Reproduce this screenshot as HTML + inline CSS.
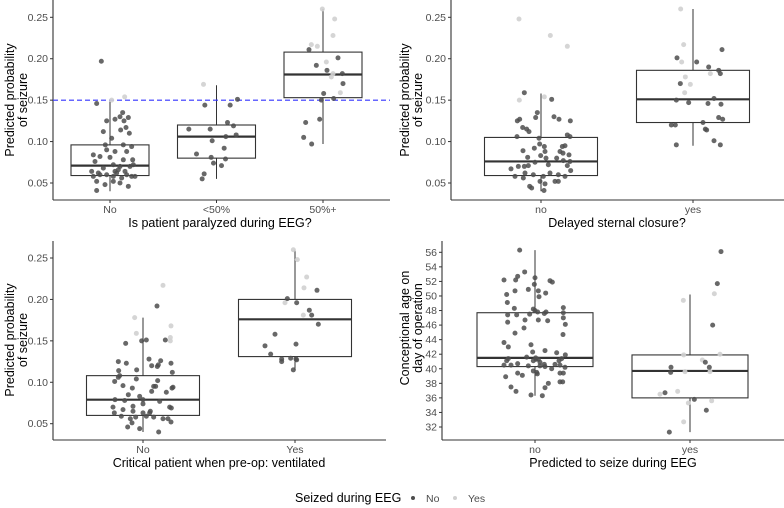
<!DOCTYPE html>
<html><head><meta charset="utf-8">
<style>
html,body{margin:0;padding:0;background:#fff;}
svg{display:block;font-family:"Liberation Sans",Arial,sans-serif;}
.tick{font-size:10.5px;fill:#4d4d4d;}
.title{font-size:12.5px;fill:#000;}
</style></head>
<body>
<svg id="fig" width="784" height="508" viewBox="0 0 784 508"></svg>
<script>
// ---------- DATA ----------
// panel 1: paralyzed during EEG
const p1Categories = ["No", "<50%", "50%+"];
const p1Boxes = [[0.040,0.059,0.071,0.096,0.150],[0.055,0.080,0.106,0.120,0.168],[0.097,0.153,0.181,0.208,0.260]];
const p1Points = [
[[-26,.197,0],[-40,.146,0],[44,.154,1],[5,.150,1],[-10,.125,0],[15,.127,0],[38,.135,0],[30,.130,0],[55,.129,0],[42,.125,0],[-20,.112,0],[48,.117,0],[32,.114,0],[5,.104,0],[58,.110,0],[-14,.096,0],[15,.088,0],[-10,.090,0],[40,.096,0],[65,.094,0],[50,.088,0],[-50,.084,0],[-30,.082,0],[-45,.076,0],[10,.072,0],[68,.078,0],[30,.070,0],[-20,.068,0],[60,.070,0],[70,.072,0],[-55,.064,0],[-35,.062,0],[15,.064,0],[25,.066,0],[45,.064,0],[-50,.058,0],[-30,.060,0],[-10,.060,0],[20,.062,0],[50,.060,0],[65,.058,0],[75,.058,0],[-40,.052,0],[-15,.048,0],[10,.052,0],[30,.050,0],[55,.046,0],[-40,.041,0],[10,.058,0],[35,.056,0],[40,.078,0],[0,.081,0]],
[[-39,.169,1],[-35,.144,0],[41,.144,0],[63,.151,0],[-83,.115,0],[-19,.115,0],[33,.123,0],[51,.119,0],[-13,.101,0],[28,.106,0],[59,.108,0],[23,.092,0],[-60,.085,0],[-16,.081,0],[27,.079,0],[-9,.074,0],[15,.071,0],[-37,.061,0],[-43,.055,0]],
[[-2,.260,1],[35,.248,1],[30,.228,1],[-35,.217,1],[-17,.215,1],[10,.196,1],[30,.182,1],[25,.178,1],[52,.159,1],[-42,.211,0],[45,.201,0],[-20,.192,0],[12,.186,0],[58,.182,0],[60,.170,0],[2,.158,0],[-5,.150,0],[32,.152,0],[-10,.127,0],[-52,.123,0],[-58,.105,0],[-34,.097,0]]
];
// panel 2: delayed sternal closure
const p2Categories = ["no", "yes"];
const p2Boxes = [[0.040,0.059,0.076,0.105,0.158],[0.095,0.123,0.151,0.186,0.260]];
const p2Points = [
[[-66,.248,1],[28,.228,1],[79,.215,1],[-65,.150,1],[10,.154,1],[-50,.159,0],[32,.151,0],[-11,.135,0],[-16,.129,0],[39,.130,0],[54,.127,0],[-71,.125,0],[-64,.127,0],[88,.125,0],[-55,.117,0],[-43,.115,0],[-36,.112,0],[-72,.106,0],[-6,.104,0],[79,.108,0],[87,.106,0],[-54,.089,0],[-20,.092,0],[-4,.097,0],[10,.094,0],[64,.094,0],[72,.095,0],[-40,.081,0],[-1,.083,0],[12,.088,0],[57,.088,0],[66,.086,0],[84,.084,0],[-18,.075,0],[15,.080,0],[47,.080,0],[67,.077,0],[87,.076,0],[-90,.067,0],[-68,.070,0],[-50,.070,0],[-38,.071,0],[22,.072,0],[79,.071,0],[-78,.058,0],[-53,.056,0],[-48,.062,0],[-23,.060,0],[7,.058,0],[27,.062,0],[52,.060,0],[72,.058,0],[89,.065,0],[-3,.052,0],[12,.049,0],[-34,.046,0],[-28,.044,0],[9,.041,0],[42,.052,0],[52,.052,0]],
[[-37,.260,1],[-28,.217,1],[-34,.196,1],[-23,.178,1],[-8,.169,1],[-25,.159,1],[52,.182,1],[-48,.201,0],[11,.196,0],[47,.190,0],[87,.211,0],[77,.186,0],[82,.182,0],[-38,.170,0],[-50,.150,0],[-13,.147,0],[45,.146,0],[63,.152,0],[84,.145,0],[77,.129,0],[89,.127,0],[30,.123,0],[-53,.120,0],[-65,.120,0],[37,.115,0],[41,.114,0],[63,.101,0],[-50,.096,0],[82,.096,0]]
];
// panel 3: ventilated
const p3Categories = ["No", "Yes"];
const p3Boxes = [[0.040,0.060,0.079,0.108,0.178],[0.115,0.131,0.176,0.200,0.260]];
const p3Points = [
[[60,.217,1],[-25,.178,1],[-20,.159,1],[84,.168,1],[82,.154,1],[82,.150,1],[42,.192,0],[-52,.147,0],[-4,.150,0],[10,.151,0],[67,.151,0],[-74,.125,0],[-50,.123,0],[18,.128,0],[53,.126,0],[26,.120,0],[84,.123,0],[46,.121,0],[-73,.114,0],[88,.112,0],[-19,.115,0],[43,.119,0],[-74,.106,0],[-70,.108,0],[-20,.104,0],[44,.102,0],[-85,.101,0],[-60,.096,0],[-32,.093,0],[32,.095,0],[38,.095,0],[87,.093,0],[90,.094,0],[-44,.085,0],[-10,.083,0],[26,.089,0],[70,.088,0],[-84,.079,0],[-55,.078,0],[0,.079,0],[50,.077,0],[-90,.070,0],[-30,.071,0],[0,.074,0],[80,.070,0],[85,.069,0],[-86,.063,0],[-60,.067,0],[-30,.065,0],[0,.063,0],[22,.065,0],[-65,.059,0],[-38,.056,0],[-22,.058,0],[10,.059,0],[32,.058,0],[60,.056,0],[75,.056,0],[84,.052,0],[-33,.051,0],[-46,.046,0],[-10,.044,0],[47,.040,0],[20,.063,0]],
[[-5,.260,1],[7,.248,1],[35,.227,1],[27,.214,1],[-30,.196,1],[25,.181,1],[66,.211,0],[-23,.201,0],[5,.196,0],[43,.187,0],[50,.181,0],[70,.170,0],[-60,.158,0],[-90,.144,0],[3,.146,0],[-73,.134,0],[-40,.128,0],[-13,.129,0],[3,.128,0],[5,.127,0],[-40,.125,0],[-5,.115,0]]
];
// panel 4: conceptional age
const p4Categories = ["no", "yes"];
const p4Boxes = [[36.3,40.3,41.5,47.7,56.3],[31.3,36.0,39.7,41.9,50.2]];
const p4Points = [
[[-46,56.3,0],[-31,53.3,0],[-52,52.7,0],[0,52.5,0],[-93,52.2,0],[-58,52.2,0],[45,52.1,0],[52,51.9,0],[-2,51.6,0],[-60,50.7,0],[-20,50.9,0],[10,50.7,0],[32,50.4,0],[-85,50.2,0],[12,49.9,0],[-83,49.1,0],[-62,48.3,0],[85,48.4,0],[-5,48.2,0],[0,48.0,0],[8,47.8,0],[-82,47.4,0],[-55,47.4,0],[33,47.8,0],[28,47.6,0],[-16,47.5,0],[85,47.7,0],[-30,46.7,0],[10,46.7,0],[38,46.6,0],[85,47.0,0],[-82,46.4,0],[91,46.1,0],[-33,45.6,0],[-60,44.9,0],[84,44.7,0],[-93,43.6,0],[-80,43.0,0],[-12,43.3,0],[30,42.5,0],[-7,42.3,0],[65,42.2,0],[91,41.9,0],[-80,41.4,0],[-85,41.1,0],[-25,41.6,0],[2,41.5,0],[10,41.3,0],[80,41.4,0],[72,41.1,0],[-5,41.1,0],[3,41.3,0],[15,40.9,0],[60,40.6,0],[-93,40.5,0],[-72,40.5,0],[-52,40.7,0],[30,40.3,0],[28,40.6,0],[-20,40.4,0],[15,40.4,0],[75,40.5,0],[90,40.2,0],[50,40.0,0],[-5,39.7,0],[5,39.5,0],[7,39.3,0],[-52,39.4,0],[-38,39.1,0],[75,39.4,0],[85,39.4,0],[-88,38.9,0],[40,38.0,0],[75,38.2,0],[83,38.2,0],[-72,37.5,0],[30,37.4,0],[-57,36.9,0],[-12,36.4,0],[22,36.3,0]],
[[-20,49.4,1],[73,50.3,1],[-19,41.9,1],[37,41.2,1],[90,42.0,1],[-15,39.6,1],[60,39.6,1],[-37,36.9,1],[-90,36.5,1],[65,35.6,1],[-5,35.3,1],[-19,32.7,1],[93,56.1,0],[82,51.7,0],[68,46.0,0],[-57,40.2,0],[-58,39.5,0],[46,40.9,0],[58,40.2,0],[-75,36.7,0],[13,35.8,0],[49,34.3,0],[-62,31.3,0]]
];
const p123Ticks = [0.05, 0.10, 0.15, 0.20, 0.25];
const p123TickLabels = ["0.05", "0.10", "0.15", "0.20", "0.25"];
const p4Ticks = [32,34,36,38,40,42,44,46,48,50,52,54,56];
const threshold = 0.15;
const legendLabels = ["No", "Yes"];

// ---------- DRAWING ----------
const NS = "http://www.w3.org/2000/svg";
const svg = document.getElementById("fig");
function mk(tag, attrs, parent) {
  const e = document.createElementNS(NS, tag);
  for (const k in attrs) e.setAttribute(k, attrs[k]);
  (parent || svg).appendChild(e);
  return e;
}
const DARK = "#4d4d4d", LIGHT = "#d0d0d0";

function panel(cfg) {
  const g = mk("g", {});
  
  
  const y = v => cfg.yTop + (cfg.v0 - v) * (cfg.yBot - cfg.yTop) / (cfg.v0 - cfg.v1);
  const x = i => cfg.cx0 + i * cfg.step;
  // axes
  const ax = mk("line", {x1: cfg.axX, y1: cfg.top, x2: cfg.axX, y2: cfg.axY, stroke: "#333", "stroke-width": 1.1}, g);
  
  
  const axx = mk("line", {x1: cfg.axX, y1: cfg.axY, x2: cfg.right, y2: cfg.axY, stroke: "#333", "stroke-width": 1.1}, g);
  
  
  cfg.ticks.forEach((t, k) => {
    const yy = y(t);
    mk("line", {x1: cfg.axX - 3, y1: yy, x2: cfg.axX, y2: yy, stroke: "#333", "stroke-width": 1}, g);
    const tl = mk("text", {x: cfg.axX - 5, y: yy + 3.5, "text-anchor": "end", class: "tick"}, g);
    tl.textContent = cfg.tickLabels[k];
    
    
  });
  cfg.cats.forEach((c, i) => {
    mk("line", {x1: x(i), y1: cfg.axY, x2: x(i), y2: cfg.axY + 3, stroke: "#333", "stroke-width": 1}, g);
    const tl = mk("text", {x: x(i), y: cfg.axY + 13, "text-anchor": "middle", class: "tick"}, g);
    tl.textContent = c;
    
    
  });
  // boxes
  cfg.boxes.forEach((b, i) => {
    const cx = x(i), hw = cfg.boxW / 2;
    const bg = mk("g", {}, g);
    
    
    mk("line", {x1: cx, y1: y(b[4]), x2: cx, y2: y(b[3]), stroke: "#333", "stroke-width": 1}, bg);
    mk("line", {x1: cx, y1: y(b[1]), x2: cx, y2: y(b[0]), stroke: "#333", "stroke-width": 1}, bg);
    mk("rect", {x: cx - hw, y: y(b[3]), width: cfg.boxW, height: y(b[1]) - y(b[3]), fill: "none", stroke: "#333", "stroke-width": 1.1}, bg);
    mk("line", {x1: cx - hw, y1: y(b[2]), x2: cx + hw, y2: y(b[2]), stroke: "#333", "stroke-width": 2.2}, bg);
  });
  if (cfg.threshold !== undefined) {
    const th = mk("line", {x1: cfg.axX, y1: y(cfg.threshold), x2: cfg.right, y2: y(cfg.threshold), stroke: "#3333ff", "stroke-width": 1.1, "stroke-dasharray": "5,3"}, g);
    
    
  }
  // points
  cfg.points.forEach((arr, i) => {
    arr.forEach(p => {
      const c = mk("circle", {cx: x(i + p[0] / (3 * cfg.step)), cy: y(p[1]), r: 2.5, fill: p[2] ? LIGHT : DARK, "fill-opacity": p[2] ? 0.9 : 0.85}, g);
      
      
    });
  });
  // titles
  const xt = mk("text", {x: cfg.xTitleX, y: cfg.axY + 27, "text-anchor": "middle", class: "title"}, g);
  xt.textContent = cfg.xTitle;
  
  
  const yt = mk("text", {transform: `translate(${cfg.yTitleX},${cfg.yTitleY}) rotate(-90)`, "text-anchor": "middle", class: "title"}, g);
  
  
  const t1 = mk("tspan", {x: 0, y: 0}, yt); t1.textContent = cfg.yTitle[0];
  const t2 = mk("tspan", {x: 0, y: 13}, yt); t2.textContent = cfg.yTitle[1];
}

panel({name: "panel-paralyzed", cats: p1Categories, boxes: p1Boxes, points: p1Points,
  ticks: p123Ticks, tickLabels: p123TickLabels, v0: 0.25, v1: 0.05, yTop: 17.3, yBot: 183,
  top: 0, axX: 53, axY: 200, right: 390, cx0: 110, step: 106.5, boxW: 78, threshold: threshold,
  xTitle: "Is patient paralyzed during EEG?", xTitleX: 220, yTitle: ["Predicted probability", "of seizure"], yTitleX: 14, yTitleY: 100});
panel({name: "panel-sternal-closure", cats: p2Categories, boxes: p2Boxes, points: p2Points,
  ticks: p123Ticks, tickLabels: p123TickLabels, v0: 0.25, v1: 0.05, yTop: 17.3, yBot: 183,
  top: 0, axX: 451, axY: 200, right: 784, cx0: 541, step: 152, boxW: 113,
  xTitle: "Delayed sternal closure?", xTitleX: 617, yTitle: ["Predicted probability", "of seizure"], yTitleX: 409, yTitleY: 100});
panel({name: "panel-ventilated", cats: p3Categories, boxes: p3Boxes, points: p3Points,
  ticks: p123Ticks, tickLabels: p123TickLabels, v0: 0.25, v1: 0.05, yTop: 258, yBot: 423.7,
  top: 241, axX: 53, axY: 440, right: 386, cx0: 143, step: 152, boxW: 113,
  xTitle: "Critical patient when pre-op: ventilated", xTitleX: 219, yTitle: ["Predicted probability", "of seizure"], yTitleX: 14, yTitleY: 340});
panel({name: "panel-conceptional-age", cats: p4Categories, boxes: p4Boxes, points: p4Points,
  ticks: p4Ticks, tickLabels: p4Ticks.map(String), v0: 56, v1: 32, yTop: 252.3, yBot: 427,
  top: 241, axX: 442, axY: 440, right: 784, cx0: 535, step: 155, boxW: 116,
  xTitle: "Predicted to seize during EEG", xTitleX: 613, yTitle: ["Conceptional age on", "day of operation"], yTitleX: 409, yTitleY: 328});

// legend
const lg = mk("g", {});


const lt = mk("text", {x: 295, y: 502, class: "title"}, lg);
lt.textContent = "Seized during EEG";


const legX = [413, 455];
legendLabels.forEach((l, i) => {
  const c = mk("circle", {cx: legX[i], cy: 498, r: 2, fill: i ? LIGHT : DARK}, lg);
  
  
  const t = mk("text", {x: legX[i] + 13, y: 502, class: "tick", fill: "#000"}, lg);
  t.textContent = l;
  
  
});
</script>
</body></html>
